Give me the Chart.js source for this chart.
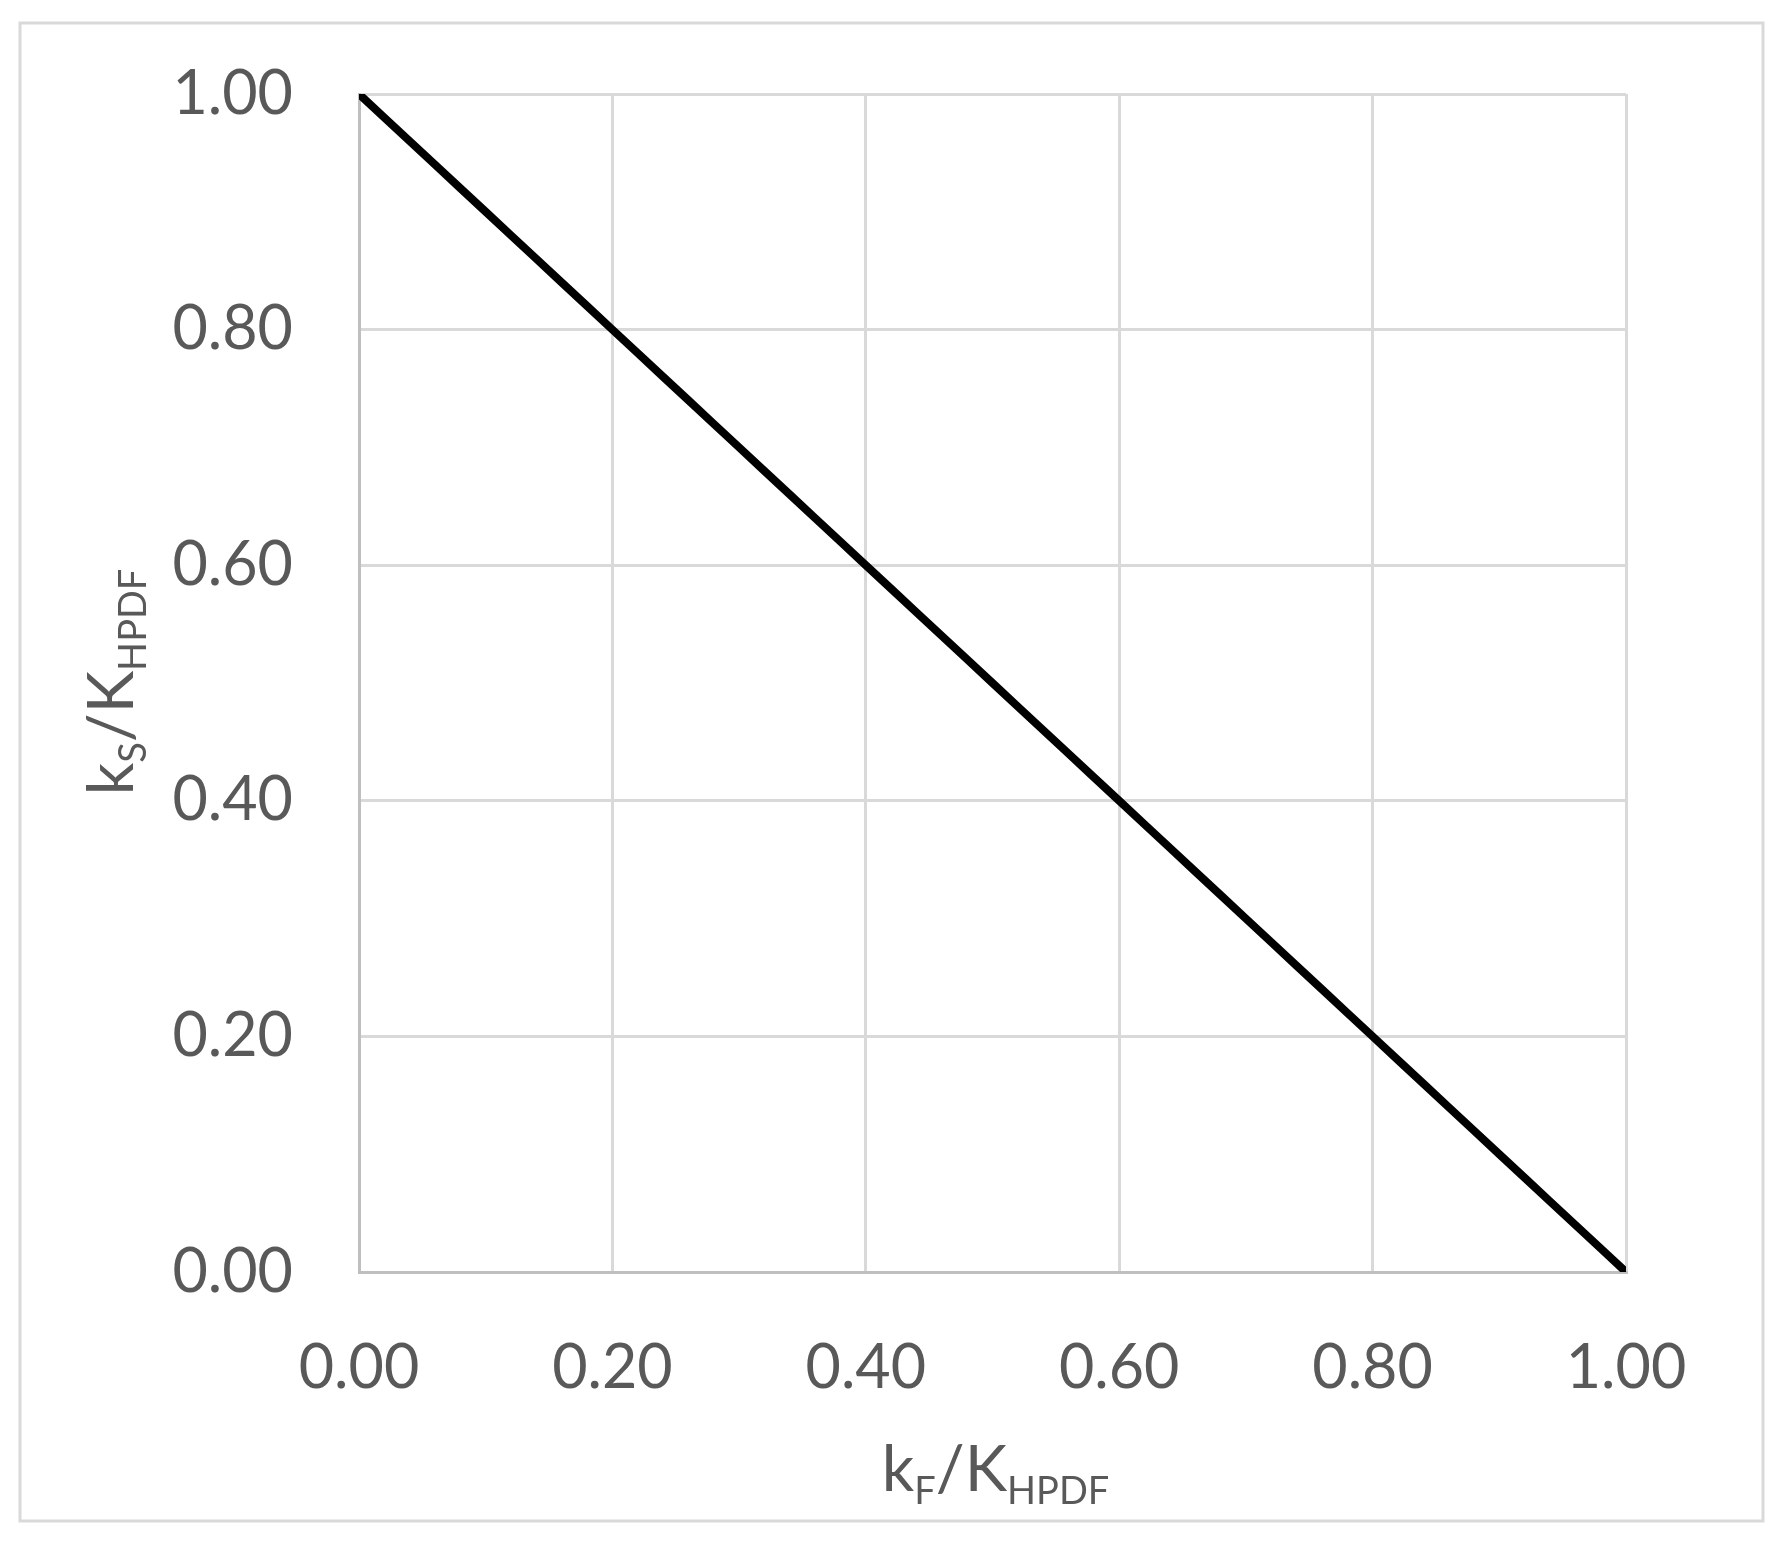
<!DOCTYPE html>
<html>
<head>
<meta charset="utf-8">
<script src="https://cdn.jsdelivr.net/npm/chart.js@4/dist/chart.umd.min.js"></script>
<style>
  html, body { margin: 0; padding: 0; background: #fff; }
  #wrap { position: relative; width: 1781px; height: 1542px; }
</style>
</head>
<body>
<div id="wrap"><canvas id="ratioChart" width="1781" height="1542"></canvas></div>
<script>
// kF/KHPDF values (x) and ks/KHPDF values (y)
const kF = [0.00, 0.02, 0.04, 0.06, 0.08, 0.10, 0.12, 0.14, 0.16, 0.18,
            0.20, 0.22, 0.24, 0.26, 0.28, 0.30, 0.32, 0.34, 0.36, 0.38,
            0.40, 0.42, 0.44, 0.46, 0.48, 0.50, 0.52, 0.54, 0.56, 0.58,
            0.60, 0.62, 0.64, 0.66, 0.68, 0.70, 0.72, 0.74, 0.76, 0.78,
            0.80, 0.82, 0.84, 0.86, 0.88, 0.90, 0.92, 0.94, 0.96, 0.98, 1.00];
const kS = [1.00, 0.98, 0.96, 0.94, 0.92, 0.90, 0.88, 0.86, 0.84, 0.82,
            0.80, 0.78, 0.76, 0.74, 0.72, 0.70, 0.68, 0.66, 0.64, 0.62,
            0.60, 0.58, 0.56, 0.54, 0.52, 0.50, 0.48, 0.46, 0.44, 0.42,
            0.40, 0.38, 0.36, 0.34, 0.32, 0.30, 0.28, 0.26, 0.24, 0.22,
            0.20, 0.18, 0.16, 0.14, 0.12, 0.10, 0.08, 0.06, 0.04, 0.02, 0.00];

// axis titles, split into normal / subscript parts
const xTitle = [["k", false], ["F", true], ["/K", false], ["HPDF", true]];
const yTitle = [["k", false], ["S", true], ["/K", false], ["HPDF", true]];

const FONT = "Lato";
const TEXT_COLOR = "#595959";

// draw a title with subscripts, centred on (0,0) of the current transform
function drawParts(ctx, parts, baseline) {
  const mainFont = "64px " + FONT;
  const subFont = "38px " + FONT;
  let total = 0;
  parts.forEach(p => {
    ctx.font = p[1] ? subFont : mainFont;
    total += ctx.measureText(p[0]).width;
  });
  let x = -total / 2;
  ctx.textBaseline = "alphabetic";
  ctx.textAlign = "left";
  parts.forEach(p => {
    ctx.font = p[1] ? subFont : mainFont;
    ctx.fillText(p[0], x, baseline + (p[1] ? 13 : 0));
    x += ctx.measureText(p[0]).width;
  });
}

const titlesPlugin = {
  id: "titles",
  afterDraw(chart) {
    const ctx = chart.ctx;
    const area = chart.chartArea;
    ctx.save();
    ctx.fillStyle = TEXT_COLOR;
    // x axis title
    ctx.save();
    ctx.translate((area.left + area.right) / 2 + 3, 0);
    drawParts(ctx, xTitle, 1491);
    ctx.restore();
    // y axis title (rotated)
    ctx.save();
    ctx.translate(133, 682);
    ctx.rotate(-Math.PI / 2);
    drawParts(ctx, yTitle, 0);
    ctx.restore();
    // outer frame
    ctx.strokeStyle = "#d9d9d9";
    ctx.lineWidth = 3;
    ctx.strokeRect(20, 23, 1743, 1498);
    ctx.restore();
  }
};

const ctx = document.getElementById("ratioChart").getContext("2d");
const points = kF.map((x, i) => ({ x: x, y: kS[i] }));

new Chart(ctx, {
  type: "scatter",
  data: {
    datasets: [{
      data: points,
      showLine: true,
      borderColor: "#000000",
      backgroundColor: "#000000",
      borderWidth: 8,
      borderCapStyle: "round",
      borderJoinStyle: "round",
      pointRadius: 0,
      tension: 0
    }]
  },
  options: {
    responsive: false,
    animation: false,
    devicePixelRatio: 1,
    layout: { padding: { left: 0, top: 94, right: 155, bottom: 0 } },
    plugins: { legend: { display: false }, tooltip: { enabled: false } },
    scales: {
      x: {
        type: "linear",
        min: 0,
        max: 1,
        afterFit: s => { s.height = 270; },
        ticks: {
          stepSize: 0.2,
          maxRotation: 0,
          padding: 60,
          color: TEXT_COLOR,
          font: { family: FONT, size: 61 },
          callback: v => v.toFixed(2)
        },
        grid: { color: "#d9d9d9", lineWidth: 3, drawTicks: false },
        border: { color: "#bfbfbf", width: 3 }
      },
      y: {
        type: "linear",
        min: 0,
        max: 1,
        afterFit: s => { s.width = 359; },
        ticks: {
          stepSize: 0.2,
          padding: 66,
          color: TEXT_COLOR,
          font: { family: FONT, size: 61, lineHeight: 0.8 },
          callback: v => v.toFixed(2)
        },
        grid: { color: "#d9d9d9", lineWidth: 3, drawTicks: false },
        border: { color: "#bfbfbf", width: 3 }
      }
    }
  },
  plugins: [titlesPlugin]
});
</script>
</body>
</html>
